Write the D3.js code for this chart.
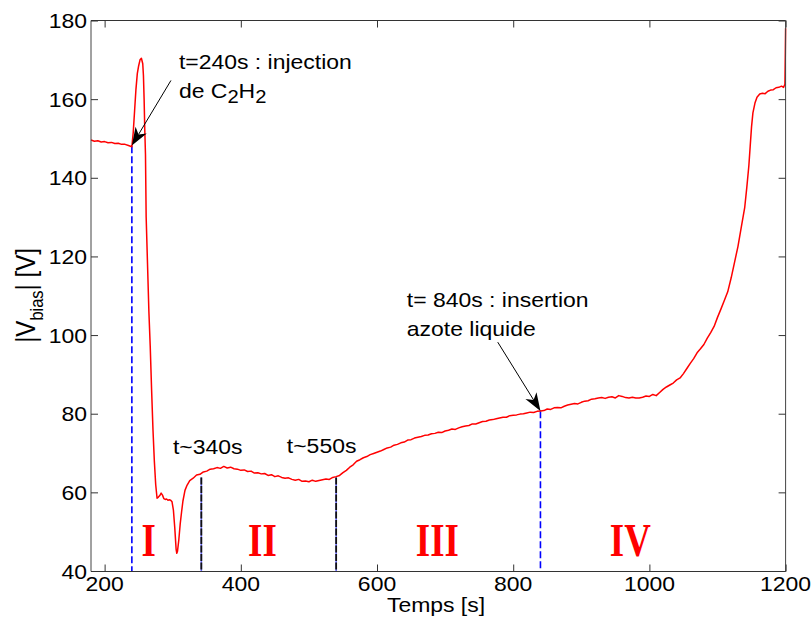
<!DOCTYPE html>
<html><head><meta charset="utf-8">
<script src="https://cdn.jsdelivr.net/npm/d3@7/dist/d3.min.js"></script>
<style>body{margin:0;background:#fff}svg{display:block}text{font-family:"Liberation Sans",Arial,sans-serif}text.roman{font-family:"Liberation Serif","Times New Roman",serif;font-weight:bold}</style>
</head><body><svg id="c" width="812" height="622"></svg>
<script>
const times = [180,185,190,195,200,205,210,215,220,225,230,235,240,
242,244,246,248,250,252,254,256,257,258,259,260,261,263,265,267,269,271,273,275,277,279,281,283,285,287,289,291,293,295,297,299,301,303,305,306,307,309,311,313,315,318,321,325,330,335,340,345,350,355,360,365,370,375,380,385,390,395,400,405,410,415,420,425,430,435,440,445,450,455,460,465,470,475,480,485,490,495,500,505,510,515,520,525,530,535,540,545,550,555,560,565,570,575,580,585,590,595,600,605,610,615,620,625,630,635,640,645,650,655,660,665,670,675,680,685,690,695,700,705,710,715,720,725,730,735,740,745,750,755,760,765,770,775,780,785,790,795,800,805,810,815,820,825,830,835,840,845,850,855,860,865,870,875,880,885,890,895,900,905,910,915,920,925,930,935,940,945,950,955,960,965,970,975,980,985,990,995,1000,1005,1010,1015,1020,1025,1030,1035,1040,1045,1050,1055,1060,1065,1070,1075,1080,1085,1090,1095,1100,1105,1110,1115,1120,1125,1130,1135,1140,1143,1146,1148,1150,1152,1155,1158,1162,1166,1170,1174,1178,1182,1186,1190,1194,1197,1199,1199.6,1200];
const vbias = [149.6,149.3,149.4,149.1,149.2,148.9,149.0,148.7,148.8,148.5,148.5,148.2,147.9,
151.5,157,162.5,166.5,168.5,170,170.4,169,166,160,152,146,130,118,106,97,86,76,68,62,58.5,58.8,59.2,59.8,59.3,58.4,58.2,58.3,58.0,58.1,58.0,57.6,55.5,51,45.5,44.5,45,48,52,55,57.8,60.5,61.8,63,63.6,64.4,64.6,65.2,65.4,65.9,66.0,66.3,66.1,66.6,66.2,66.4,66.0,65.9,65.6,65.7,65.3,65.4,64.9,65.0,64.7,64.8,64.3,64.5,64.0,64.2,63.8,63.6,63.7,63.3,63.1,63.3,62.8,62.9,62.7,63.1,62.8,63.0,63.2,63.4,63.3,63.8,64.0,64.3,65.0,65.6,66.4,67.0,67.9,68.3,68.8,69.1,69.6,69.9,70.2,70.5,70.9,71.3,71.5,72.0,72.2,72.6,72.8,73.3,73.4,73.8,74.0,74.2,74.5,74.6,74.9,75.0,75.3,75.2,75.6,75.8,76.1,76.0,76.4,76.7,76.9,77.0,77.4,77.4,77.7,78.0,78.1,78.4,78.5,78.7,78.9,79.1,79.1,79.5,79.6,79.7,79.9,80.0,80.2,80.4,80.3,80.6,80.7,80.8,81.2,81.1,81.5,81.6,81.5,81.9,82.2,82.4,82.6,82.5,82.9,83.2,83.3,83.7,83.8,84.0,84.1,83.9,84.2,84.3,84.0,84.6,84.4,84.1,84.0,84.2,84.0,84.0,84.2,84.5,84.4,84.9,84.6,85.4,86.2,86.8,87.3,87.8,88.6,89.1,90.2,91.5,92.8,94.0,95.5,96.5,97.6,99.2,100.6,102.2,104.5,106.6,108.8,111.0,114.5,118.5,122.5,127.5,132.5,137.5,143,148,153,156.5,159,160.5,161.3,161.5,161.4,162.0,162.3,162.4,162.9,163.0,163.3,163.0,163.8,172,178];

const xTicks = [200,400,600,800,1000,1200];
const yTicks = [40,60,80,100,120,140,160,180];
const blueMarkers = [{t:240, top:148.0},{t:840, top:80.6}];
const blackMarkers = [{t:342, top:63.8},{t:540, top:63.8}];
const phaseLabels = ["I","II","III","IV"];
const phaseT = [264.8,431.7,688.6,971.9];
const phaseV = 43.8;
const stepLabels = [{text:"t~340s", t:300.3, v:69.7},{text:"t~550s", t:467.6, v:70.0}];
const arrows = [{from:[297.4,164.75], to:[240,148.2]},{from:[777.3,98.2], to:[840,80.7]}];

const svg = d3.select("#c");
const L=91, R=785.6, T=20.5, B=571;
const x = d3.scaleLinear().domain([180,1200]).range([L,R]);
const y = d3.scaleLinear().domain([40,180]).range([B,T]);
const SX = 1.12, FS = 20.5;

function txt(g, s, px, py, anchor, size){
  return g.append("text").attr("transform",`translate(${px},${py}) scale(${SX},1)`)
    .attr("text-anchor",anchor||"start").attr("font-size",size||FS).attr("fill","#000").text(s);
}

// vertical markers
blueMarkers.forEach(m=>{
  svg.append("line").attr("x1",x(m.t)).attr("x2",x(m.t)).attr("y1",y(m.top)).attr("y2",B)
    .attr("stroke","#0000ff").attr("stroke-width",1.6).attr("stroke-dasharray","7,3");
});
blackMarkers.forEach(m=>{
  svg.append("line").attr("x1",x(m.t)).attr("x2",x(m.t)).attr("y1",y(m.top)).attr("y2",B)
    .attr("stroke","#6a6aff").attr("stroke-width",1.6);
  svg.append("line").attr("x1",x(m.t)).attr("x2",x(m.t)).attr("y1",y(m.top)).attr("y2",B)
    .attr("stroke","#111").attr("stroke-width",1.8).attr("stroke-dasharray","7,1.5");
});

// curve
const data = times.map((t,i)=>[t,vbias[i]]);
svg.append("path").datum(data).attr("fill","none").attr("stroke","#ff0000").attr("stroke-width",1.5)
  .attr("stroke-linejoin","round")
  .attr("d", d3.line().x(d=>x(d[0])).y(d=>y(d[1])));

// box
svg.append("line").attr("x1",L).attr("x2",R).attr("y1",T).attr("y2",T).attr("stroke","#333");
svg.append("line").attr("x1",L).attr("x2",R).attr("y1",B+0.5).attr("y2",B+0.5).attr("stroke","#333");
svg.append("line").attr("x1",L).attr("x2",L).attr("y1",T).attr("y2",B+0.5).attr("stroke","#444");
svg.append("line").attr("x1",R).attr("x2",R).attr("y1",T).attr("y2",B+0.5).attr("stroke","#444");

// ticks (inward, mirrored)
const axB = svg.append("g").attr("transform",`translate(0,${B+0.5})`)
  .call(d3.axisBottom(x).tickValues(xTicks).tickSize(-7).tickFormat(""));
const axT = svg.append("g").attr("transform",`translate(0,${T})`)
  .call(d3.axisTop(x).tickValues(xTicks).tickSize(-7).tickFormat(""));
const axL = svg.append("g").attr("transform",`translate(${L},0)`)
  .call(d3.axisLeft(y).tickValues(yTicks).tickSize(-7).tickFormat(""));
const axR = svg.append("g").attr("transform",`translate(${R},0)`)
  .call(d3.axisRight(y).tickValues(yTicks).tickSize(-7).tickFormat(""));
[axB,axT,axL,axR].forEach(a=>{a.select(".domain").remove(); a.selectAll("line").attr("stroke","#333");});

// tick labels
xTicks.forEach(v=> txt(svg, String(v), x(v), 590.5, "middle"));
yTicks.forEach(v=> txt(svg, String(v), L-4, y(v)+7.5, "end"));

// axis titles
txt(svg, "Temps [s]", 436, 612, "middle");
const yl = svg.append("text").attr("transform",`translate(35,295.5) rotate(-90) scale(1,${SX})`)
  .attr("text-anchor","middle").attr("font-size",24).attr("fill","#000");
yl.append("tspan").text("|V");
yl.append("tspan").attr("font-size",16.5).attr("dy",7).text("bias");
yl.append("tspan").attr("dy",-7).text("| [V]");

// phase labels
phaseLabels.forEach((s,i)=>{
  svg.append("text").attr("class","roman")
    .attr("transform",`translate(${x(phaseT[i])},${y(phaseV)}) scale(0.8,1)`)
    .attr("text-anchor","middle").attr("font-size",46).attr("fill","#ff0000").text(s);
});

// step labels
stepLabels.forEach(d=> txt(svg, d.text, x(d.t), y(d.v), "start"));

// annotation texts
txt(svg, "t=240s : injection", x(309.1), y(167.55), "start");
const l2 = svg.append("text").attr("transform",`translate(${x(309.1)},${y(160.2)}) scale(${SX},1)`)
  .attr("font-size",FS).attr("fill","#000");
l2.append("tspan").text("de C");
l2.append("tspan").attr("dy",5).attr("font-size",18).text("2");
l2.append("tspan").attr("dy",-5).text("H");
l2.append("tspan").attr("dy",5).attr("font-size",18).text("2");
txt(svg, "t= 840s : insertion", x(643.8), y(107.2), "start");
txt(svg, "azote liquide", x(643.8), y(99.7), "start");

// arrows
arrows.forEach(a=>{
  const x0=x(a.from[0]), y0=y(a.from[1]), x1=x(a.to[0]), y1=y(a.to[1]);
  const dx=x1-x0, dy=y1-y0, len=Math.hypot(dx,dy), ux=dx/len, uy=dy/len, nx=-uy, ny=ux;
  const hl=18, hw=6.5, notch=13;
  svg.append("line").attr("x1",x0).attr("y1",y0).attr("x2",x1-ux*notch).attr("y2",y1-uy*notch)
    .attr("stroke","#000").attr("stroke-width",1);
  const pts=[[x1,y1],[x1-ux*hl+nx*hw,y1-uy*hl+ny*hw],[x1-ux*notch,y1-uy*notch],[x1-ux*hl-nx*hw,y1-uy*hl-ny*hw]];
  svg.append("polygon").attr("points",pts.map(p=>p.join(",")).join(" ")).attr("fill","#000");
});
</script></body></html>
